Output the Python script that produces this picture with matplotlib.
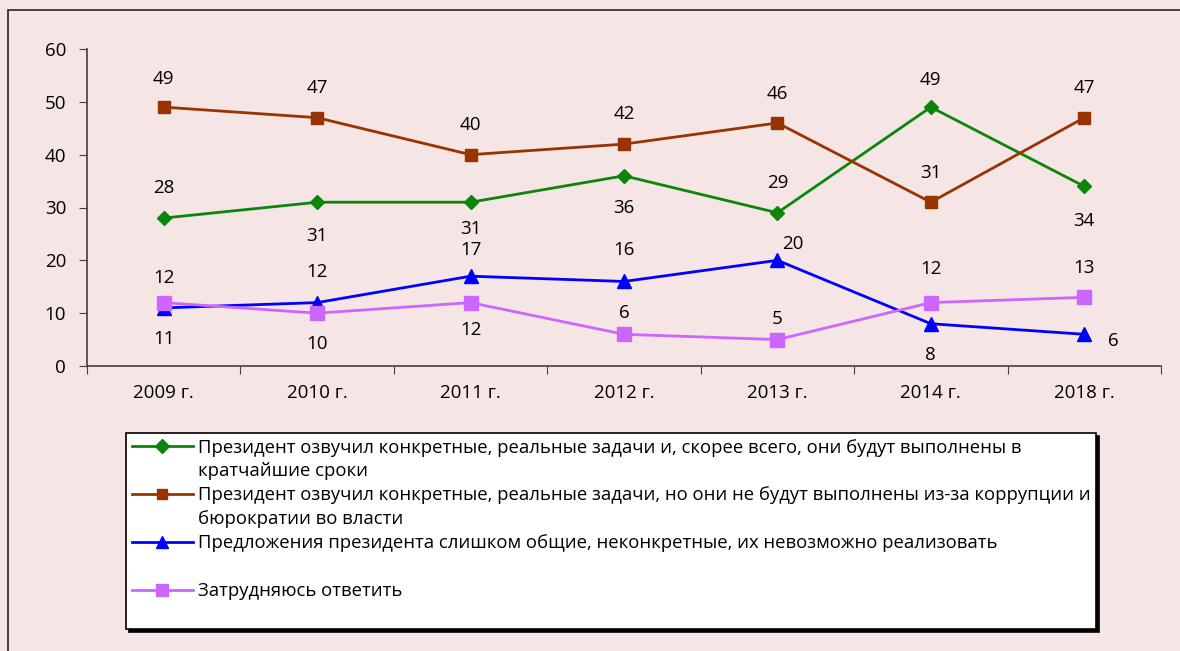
import matplotlib
matplotlib.use("Agg")
import matplotlib.pyplot as plt
from matplotlib.lines import Line2D
from matplotlib.patches import Rectangle

plt.rcParams["font.family"] = ["Open Sans", "DejaVu Sans"]

YEARS = ["2009 г.", "2010 г.", "2011 г.", "2012 г.", "2013 г.", "2014 г.", "2018 г."]
REAL_FAST = [28, 31, 31, 36, 29, 49, 34]
REAL_CORRUPT = [49, 47, 40, 42, 46, 31, 47]
TOO_GENERAL = [11, 12, 17, 16, 20, 8, 6]
HARD_TO_SAY = [12, 10, 12, 6, 5, 12, 13]

LABELS = [
    "Президент озвучил конкретные, реальные задачи и, скорее всего, они будут выполнены в",
    "кратчайшие сроки",
    "Президент озвучил конкретные, реальные задачи, но они не будут выполнены из-за коррупции и",
    "бюрократии во власти",
    "Предложения президента слишком общие, неконкретные, их невозможно реализовать",
    " ",
    "Затрудняюсь ответить",
    " ",
]

BG = "#F5E5E5"

# label offsets in pixels (dx, dy), dy positive = down
OFF_FAST = [(0, -30), (0, 34), (0, 27), (0, 32), (0, -30), (0, -27), (0, 35)]
OFF_CORRUPT = [(0, -28), (0, -30), (0, -30), (0, -30), (0, -29), (0, -29), (0, -30)]
OFF_GENERAL = [(0, 31), (0, -31), (0, -26), (0, -31), (15, -16), (0, 31), (29, 7)]
OFF_HARD = [(0, -25), (0, 31), (0, 27), (0, -21), (0, -21), (0, -34), (0, -29)]

series = [
    (REAL_FAST, "#0B860B", "D", 7.5, OFF_FAST),
    (REAL_CORRUPT, "#993300", "s", 8.5, OFF_CORRUPT),
    (TOO_GENERAL, "#0000FF", "^", 10, OFF_GENERAL),
    (HARD_TO_SAY, "#CC66FF", "s", 10, OFF_HARD),
]

fig = plt.figure(figsize=(11.8, 6.51), dpi=100, facecolor=BG)
ax = fig.add_axes([87 / 1180, 1 - 366 / 651, (1161 - 87) / 1180, (366 - 49) / 651])
ax.set_facecolor(BG)

# outer border of the chart area
fig.patches.append(Rectangle((8 / 1180, -0.1), 1.2, 1.1 - 10 / 651,
                             transform=fig.transFigure, fill=False,
                             edgecolor="#333333", linewidth=1.3))

x = list(range(len(YEARS)))
handles = []
for vals, col, mk, ms, offs in series:
    ax.plot(x, vals, color=col, lw=2.0, marker=mk, ms=ms, mec=col, mfc=col,
            clip_on=False, zorder=3)
    for i, v in enumerate(vals):
        dx, dy = offs[i]
        ax.annotate(str(v), (i, v), xytext=(dx * 0.72, -dy * 0.72),
                    textcoords="offset points", ha="center", va="center",
                    fontsize=13.5, color="black")
    handles.append(Line2D([], [], color=col, lw=2.0, marker=mk,
                          ms=ms * 0.9, mec=col, mfc=col))
    handles.append(Line2D([], [], linestyle="none"))

ax.set_ylim(0, 60)
ax.set_xlim(-0.5, len(YEARS) - 0.5)
ax.set_yticks(range(0, 61, 10))
ax.set_xticks([i - 0.5 for i in range(len(YEARS) + 1)])
ax.set_xticklabels([])
ax.set_xticks(x, minor=True)
ax.set_xticklabels(YEARS, minor=True)
ax.tick_params(axis="x", which="major", length=6, direction="out", color="#404040")
ax.tick_params(axis="x", which="minor", length=0, pad=13, labelsize=13.5)
ax.tick_params(axis="y", length=6, direction="out", pad=9, labelsize=13.5, color="#404040")
for s in ("top", "right"):
    ax.spines[s].set_visible(False)
for s in ("left", "bottom"):
    ax.spines[s].set_color("#404040")
    ax.spines[s].set_linewidth(1.2)

leg = fig.legend(handles, LABELS, loc="upper left",
                 bbox_to_anchor=(126 / 1180, 1 - 433 / 651, (1096 - 126) / 1180, 0),
                 mode="expand", borderaxespad=0, fontsize=13.3, labelspacing=0.32,
                 handlelength=3.35, handletextpad=0.25, borderpad=0.3,
                 fancybox=False, shadow={"color": "black", "alpha": 1.0},
                 framealpha=1, facecolor="white", edgecolor="black")
leg.get_frame().set_linewidth(1.2)

fig.savefig("out.png", dpi=100, facecolor=BG)
